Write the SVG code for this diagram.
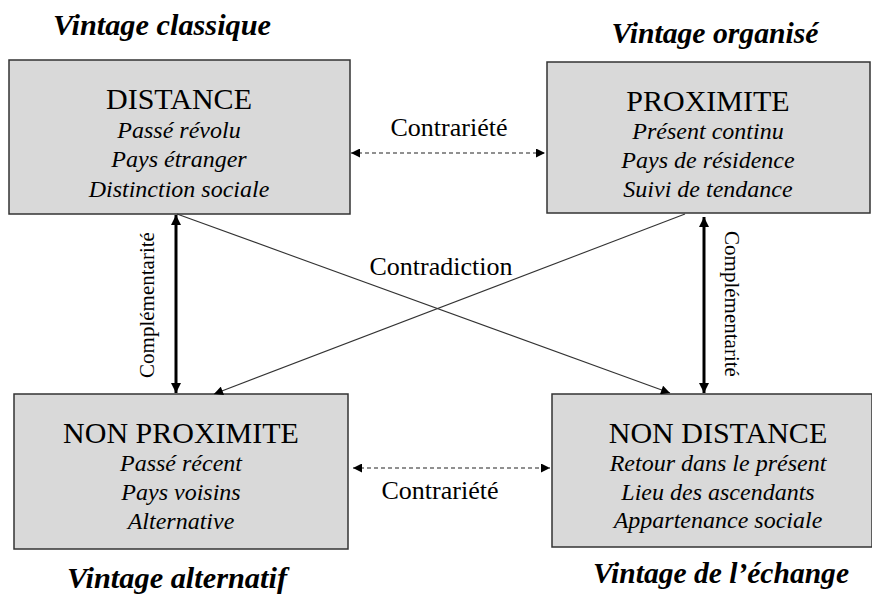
<svg xmlns="http://www.w3.org/2000/svg" width="872" height="594" viewBox="0 0 872 594">
<style>
text{font-family:'Liberation Serif','Times New Roman',serif}
.box{fill:#d9d9d9;stroke:#333;stroke-width:1.5}
.t{fill:#000;text-anchor:middle}
.head{font-size:30px}
.sub{font-size:24px;font-style:italic}
.title{font-size:29px;font-style:italic;font-weight:bold}
.lbl{font-size:26px}
.vlbl{font-size:21px}
.dash{stroke:#222;stroke-width:1.2;stroke-dasharray:4 3;fill:none}
.thick{stroke:#000;stroke-width:3;fill:none}
.diag{stroke:#333;stroke-width:1.1;fill:none}
</style>
<defs>
<marker id="ah" viewBox="0 0 10 10" refX="10" refY="5" markerWidth="10" markerHeight="9" markerUnits="userSpaceOnUse" orient="auto-start-reverse"><path d="M0,0L10,5L0,10z" fill="#000"/></marker>
<marker id="ahT" viewBox="0 0 10 10" refX="10" refY="5" markerWidth="10" markerHeight="11" markerUnits="userSpaceOnUse" orient="auto-start-reverse"><path d="M0,0L10,5L0,10z" fill="#000"/></marker>
</defs>
<text class="t title" x="162" y="35" textLength="218" lengthAdjust="spacingAndGlyphs">Vintage classique</text>
<text class="t title" x="715" y="43" textLength="207" lengthAdjust="spacingAndGlyphs">Vintage organisé</text>
<text class="t title" x="177" y="588" textLength="220" lengthAdjust="spacingAndGlyphs">Vintage alternatif</text>
<text class="t title" x="721" y="583" textLength="256" lengthAdjust="spacingAndGlyphs">Vintage de l’échange</text>
<g id="distance">
<rect class="box" x="9" y="60" width="341" height="154"/>
<text class="t head" x="179" y="109">DISTANCE</text>
<text class="t sub" x="179" y="138">Passé révolu</text>
<text class="t sub" x="179" y="167">Pays étranger</text>
<text class="t sub" x="179" y="197">Distinction sociale</text>
</g>
<g id="proximite">
<rect class="box" x="547" y="62" width="323" height="151"/>
<text class="t head" x="708" y="111">PROXIMITE</text>
<text class="t sub" x="708" y="139">Présent continu</text>
<text class="t sub" x="708" y="168">Pays de résidence</text>
<text class="t sub" x="708" y="197">Suivi de tendance</text>
</g>
<g id="non-proximite">
<rect class="box" x="14" y="394" width="334" height="155"/>
<text class="t head" x="181" y="443">NON PROXIMITE</text>
<text class="t sub" x="181" y="471">Passé récent</text>
<text class="t sub" x="181" y="500">Pays voisins</text>
<text class="t sub" x="181" y="529">Alternative</text>
</g>
<g id="non-distance">
<rect class="box" x="552" y="394" width="320" height="153"/>
<text class="t head" x="718" y="443">NON DISTANCE</text>
<text class="t sub" x="718" y="471">Retour dans le présent</text>
<text class="t sub" x="718" y="500">Lieu des ascendants</text>
<text class="t sub" x="718" y="528">Appartenance sociale</text>
</g>
<g id="connectors">
<line class="dash" x1="351" y1="153" x2="545" y2="153" marker-start="url(#ah)" marker-end="url(#ah)"/>
<text class="t lbl" x="449" y="136">Contrariété</text>
<line class="dash" x1="353" y1="468" x2="550" y2="468" marker-start="url(#ah)" marker-end="url(#ah)"/>
<text class="t lbl" x="440" y="499">Contrariété</text>
<line class="thick" x1="176" y1="215" x2="176" y2="393" marker-start="url(#ahT)" marker-end="url(#ahT)"/>
<text class="t vlbl" transform="translate(154,305) rotate(-90)">Complémentarité</text>
<line class="thick" x1="704" y1="217" x2="704" y2="393" marker-start="url(#ahT)" marker-end="url(#ahT)"/>
<text class="t vlbl" transform="translate(725,304) rotate(90)">Complémentarité</text>
<line class="diag" x1="177" y1="214" x2="670" y2="393" marker-end="url(#ah)"/>
<line class="diag" x1="685" y1="214" x2="214" y2="394" marker-end="url(#ah)"/>
<text class="t lbl" x="441" y="275">Contradiction</text>
</g>
</svg>
